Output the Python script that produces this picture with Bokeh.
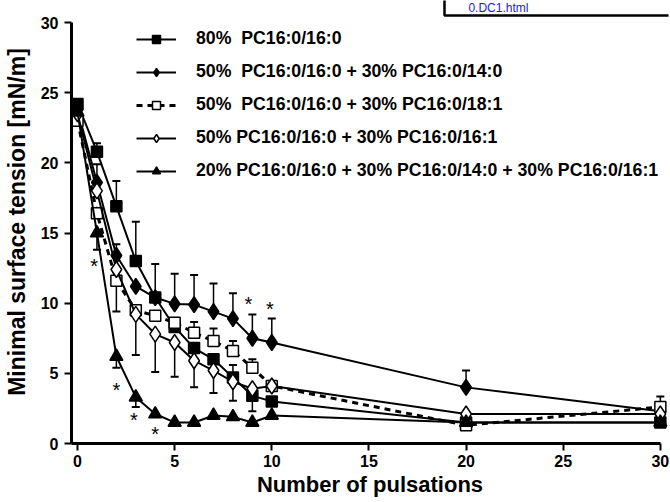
import numpy as np
from bokeh.plotting import figure
from bokeh.models import (ColumnDataSource, Whisker, TeeHead, Legend, LegendItem,
                          Label, Range1d, FixedTicker, BoxAnnotation)
from bokeh.core.properties import value
from bokeh.embed import file_html
from bokeh.resources import INLINE

FONT = "Liberation Sans"

# ---------------- data ----------------
pulses = [0, 1, 2, 3, 4, 5, 6, 7, 8, 9, 10, 20, 30]

pc80 = [24.2, 20.8, 16.9, 13.0, 10.4, 8.3, 6.8, 6.0, 4.7, 3.4, 3.0, 1.5, 1.5]
pc80_up = [0.3, 0.6, 1.8, 2.8, 0, 0, 0, 0, 0.9, 0, 0, 0, 0]
pc80_dn = [0, 0, 0, 0, 0, 0, 0, 0, 0, 1.1, 0, 0, 0]

pc140 = [23.8, 18.6, 13.4, 11.2, 10.4, 9.95, 9.9, 9.4, 8.9, 7.5, 7.2, 4.0, 2.3]
pc140_up = [0.3, 1.3, 0.8, 0, 2.4, 2.15, 2.1, 2.0, 1.8, 1.7, 1.7, 1.2, 0]
pc140_dn = [0, 0, 0, 0, 0, 0, 0, 0, 0, 0, 0, 0, 0]

pc181 = [23.0, 16.4, 11.6, 9.5, 9.1, 8.6, 7.9, 7.3, 6.6, 5.4, 4.1, 1.3, 2.6]
pc181_up = [0, 0, 0, 0, 0, 0, 0.75, 0.9, 0.7, 0.6, 0, 0, 0.75]
pc181_dn = [0, 0, 2.2, 0, 0, 0, 0, 0, 0, 0, 0, 0, 0]

pc161 = [23.5, 18.0, 12.4, 9.2, 7.8, 7.2, 5.9, 5.2, 4.4, 3.9, 4.1, 2.1, 2.1]
pc161_up = [0, 0, 0, 0, 0, 0, 0, 0, 0, 0, 0, 0, 0]
pc161_dn = [0, 0, 0, 2.9, 2.7, 2.45, 1.9, 1.6, 1.35, 0, 0, 0, 0]

mix3 = [23.6, 15.0, 6.2, 3.3, 2.1, 1.5, 1.5, 2.0, 1.9, 1.5, 2.0, 1.5, 1.5]
mix3_up = [0, 0, 0, 0, 0, 0, 0, 0, 0, 0, 0, 0, 0]
mix3_dn = [0, 1.2, 0.8, 0.7, 0, 0, 0, 0, 0, 0, 0, 0, 0]

star_x = [0.86, 2.0, 2.9, 4.0, 8.8, 9.9]
star_y = [13.0, 4.2, 2.0, 1.05, 10.3, 9.95]

x_ticks = [0, 5, 10, 15, 20, 25, 30]
y_ticks = [0, 5, 10, 15, 20, 25, 30]

labels = [
    "80%  PC16:0/16:0",
    "50%  PC16:0/16:0 + 30% PC16:0/14:0",
    "50%  PC16:0/16:0 + 30% PC16:0/18:1",
    "50% PC16:0/16:0 + 30% PC16:0/16:1",
    "20% PC16:0/16:0 + 30% PC16:0/14:0 + 30% PC16:0/16:1",
]

link_text = "0.DC1.html"

# ---------------- figure ----------------
X0, X1 = -0.31, 30.42
Y1 = 31.57
p = figure(width=670, height=502, frame_width=597, frame_height=443,
           min_border_left=70, min_border_right=3, min_border_top=0,
           min_border_bottom=59,
           x_range=Range1d(X0, X1), y_range=Range1d(0, Y1),
           output_backend="svg", toolbar_location=None)
p.xgrid.visible = False
p.ygrid.visible = False
p.outline_line_color = None
p.background_fill_color = "white"
p.border_fill_color = "white"

for ax, ticks in ((p.xaxis[0], x_ticks), (p.yaxis[0], y_ticks)):
    ax.ticker = FixedTicker(ticks=ticks)
    ax.axis_line_width = 3
    ax.axis_line_color = "black"
    ax.major_tick_line_width = 2
    ax.major_tick_out = 7
    ax.major_tick_in = 0
    ax.minor_tick_out = 0
    ax.minor_tick_in = 0
    ax.major_label_text_font = FONT
    ax.major_label_text_font_style = "bold"
    ax.major_label_text_font_size = "16px"
    ax.major_label_text_color = "black"
    ax.axis_label_text_font = FONT
    ax.axis_label_text_font_style = "bold"
    ax.axis_label_text_color = "black"

p.xaxis.bounds = (X0, 30)
p.yaxis.bounds = (0, 30)
p.xaxis.axis_label = "Number of pulsations"
p.xaxis.axis_label_text_font_size = "22px"
p.xaxis.major_label_standoff = 4
p.xaxis.axis_label_standoff = 2
p.yaxis.axis_label = "Minimal surface tension [mN/m]"
p.yaxis.axis_label_text_font_size = "23px"
p.yaxis.major_label_standoff = 6
p.yaxis.axis_label_standoff = 8


def add_series(y, up, dn, marker, fill, dash, size, lw=2):
    ln = p.line(pulses, y, line_color="black", line_width=lw, line_dash=dash)
    ux = [x for x, e in zip(pulses, up) if e > 0]
    if ux:
        src = ColumnDataSource(dict(
            base=ux,
            lower=[v for v, e in zip(y, up) if e > 0],
            upper=[v + e for v, e in zip(y, up) if e > 0]))
        p.add_layout(Whisker(source=src, base="base", lower="lower", upper="upper",
                             dimension="height", line_color="black", line_width=1.5,
                             upper_head=TeeHead(size=8, line_width=2, line_color="black"),
                             lower_head=None, level="underlay"))
    dx = [x for x, e in zip(pulses, dn) if e > 0]
    if dx:
        src = ColumnDataSource(dict(
            base=dx,
            upper=[v for v, e in zip(y, dn) if e > 0],
            lower=[v - e for v, e in zip(y, dn) if e > 0]))
        p.add_layout(Whisker(source=src, base="base", lower="lower", upper="upper",
                             dimension="height", line_color="black", line_width=1.5,
                             lower_head=TeeHead(size=8, line_width=2, line_color="black"),
                             upper_head=None, level="underlay"))
    mk = p.scatter(pulses, y, marker=marker, size=size,
                   fill_color=fill, line_color="black", line_width=1.5)
    return [ln, mk]


r1 = add_series(pc80, pc80_up, pc80_dn, "square", "black", "solid", 11)
r2 = add_series(pc140, pc140_up, pc140_dn, "diamond", "black", "solid", 16)
r3 = add_series(pc181, pc181_up, pc181_dn, "square", "white", "6 5", 11, lw=3)
r4 = add_series(pc161, pc161_up, pc161_dn, "diamond", "white", "solid", 16)
r5 = add_series(mix3, mix3_up, mix3_dn, "triangle", "black", "solid", 13)

p.text(star_x, star_y, text=["*"] * len(star_x), text_font=value(FONT),
       text_font_size="20px", text_align="center", text_baseline="middle",
       y_offset=5, text_color="black")

legend = Legend(items=[LegendItem(label=l, renderers=r)
                       for l, r in zip(labels, [r1, r2, r3, r4, r5])],
                location=(65, 262), orientation="vertical",
                padding=0, margin=0, spacing=12,
                glyph_width=40, glyph_height=20, label_height=20,
                label_standoff=20, border_line_color=None,
                background_fill_alpha=0,
                label_text_font=FONT, label_text_font_style="bold",
                label_text_font_size="17.7px", label_text_color="black",
                label_text_baseline="middle")
p.add_layout(legend)

# link box in the top-right corner
p.add_layout(BoxAnnotation(left=18.89, right=X1 + 1, bottom=30.5, top=Y1 + 1,
                           fill_color="white", fill_alpha=1.0,
                           line_color="black", line_alpha=1.0, line_width=2.5,
                           level="overlay"))
p.add_layout(Label(x=20.12, y=Y1 - 0.02, text=link_text, text_font=FONT,
                   text_font_size="12px", text_color="#1a1ae6",
                   text_align="left", text_baseline="top", level="overlay"))

open("out.html", "w").write(file_html(p, INLINE))
